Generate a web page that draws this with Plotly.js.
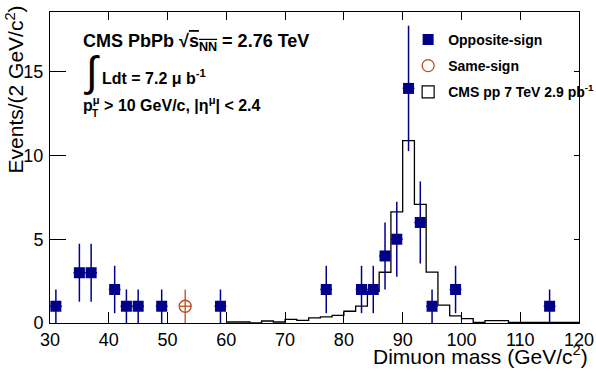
<!DOCTYPE html>
<html><head><meta charset="utf-8">
<script src="https://cdn.plot.ly/plotly-3.0.1.min.js"></script>
<style>html,body{margin:0;padding:0;background:#fff}#chart{width:596px;height:372px}</style>
</head><body><div id="chart"></div>
<script>
// Opposite-sign dimuon candidates (bin centres, 2 GeV bins)
const osMass   = [31,35,37,41,43,45,49,59,77,83,85,87,89,91,93,95,99,115];
const osCounts = [1,3,3,2,1,1,1,1,2,2,2,4,5,14,6,1,2,1];
// Same-sign
const ssMass   = [53];
const ssCounts = [1];
const binHalfWidth = 1;
// CMS pp 7 TeV reference shape, bin edges 60..120
const ppEdges  = [60,62,64,66,68,70,72,74,76,78,80,82,84,86,88,90,92,94,96,98,100,102,104,106,108,110,112,114,116,118,120];
const ppCounts = [0.06,0.06,0,0.12,0.06,0.22,0.16,0.30,0.36,0.46,0.70,1.01,1.89,3.03,6.63,10.88,7.08,3.04,1.07,0.42,0.26,0.03,0.14,0.14,0.03,0.03,0.03,0.03,0.03,0.03];
const xTicks = [30,40,50,60,70,80,90,100,110,120];
const yTicks = [0,5,10,15];

const NAVY = '#000088', ORANGE = '#c04a1c';
const FONT = 'Liberation Sans, Arial, Helvetica, sans-serif';

const traces = [
  {type:'scatter', mode:'lines', x:ppEdges, y:ppCounts.concat([ppCounts[ppCounts.length-1]]),
   line:{shape:'hv', color:'#000', width:1.3}, showlegend:false, hoverinfo:'skip'},
  {type:'scatter', mode:'markers', name:'<b>Opposite-sign</b>', legendgroup:'a',
   x:osMass, y:osCounts,
   marker:{symbol:'square', size:11, color:NAVY},
   error_y:{type:'data', array:osCounts.map(Math.sqrt), color:NAVY, thickness:1.5, width:0},
   error_x:{type:'constant', value:binHalfWidth, color:NAVY, thickness:1.5, width:0}},
  {type:'scatter', mode:'markers', name:'<b>Same-sign</b>', legendgroup:'b',
   x:ssMass, y:ssCounts,
   marker:{symbol:'circle-open', size:12, color:ORANGE, line:{width:1.3, color:ORANGE}},
   error_y:{type:'data', array:ssCounts.map(Math.sqrt), color:ORANGE, thickness:1.3, width:0},
   error_x:{type:'constant', value:binHalfWidth, color:ORANGE, thickness:1.3, width:0}},
  {type:'bar', name:'<b>CMS pp 7 TeV 2.9 pb<sup>-1</sup></b>', legendgroup:'c',
   x:[null], y:[null], marker:{color:'rgba(255,255,255,0)', line:{color:'#000', width:1.2}}},
  {type:'scatter', mode:'none', x:[], y:[], xaxis:'x2', yaxis:'y2', showlegend:false, hoverinfo:'skip'}
];

const annotations = [
  {text:'<b>CMS PbPb √<span style="text-decoration:overline">s<sub>NN</sub></span> = 2.76 TeV</b>',
   xref:'paper', yref:'paper', x:0.058, y:0.903, xanchor:'left', yanchor:'middle', showarrow:false,
   font:{family:FONT, size:18, color:'#000'}},
  {text:'∫', xref:'paper', yref:'paper', x:0.061, y:0.81, xanchor:'left', yanchor:'middle', showarrow:false,
   font:{family:FONT, size:42, color:'#000'}},
  {text:'<b>Ldt = 7.2 μ b<sup>-1</sup></b>',
   xref:'paper', yref:'paper', x:0.095, y:0.79, xanchor:'left', yanchor:'middle', showarrow:false,
   font:{family:FONT, size:16, color:'#000'}},
  {text:'<b>p<sup>μ</sup> > 10 GeV/c, |η<sup>μ</sup>| < 2.4</b>',
   xref:'paper', yref:'paper', x:0.058, y:0.703, xanchor:'left', yanchor:'middle', showarrow:false,
   font:{family:FONT, size:16, color:'#000'}},
  {text:'<b>T</b>', xref:'paper', yref:'paper', x:0.0755, y:0.674, xanchor:'left', yanchor:'middle', showarrow:false,
   font:{family:FONT, size:10, color:'#000'}},
  {text:'Dimuon mass (GeV/c<sup>2</sup>)', xref:'paper', yref:'paper', x:1.021, y:-0.152,
   xanchor:'right', yanchor:'bottom', showarrow:false, font:{family:FONT, size:21, color:'#000'}},
  {text:'Events/(2 GeV/c<sup>2</sup>)', xref:'paper', yref:'paper', x:-0.067, y:1.026, textangle:-90,
   xanchor:'center', yanchor:'top', showarrow:false, font:{family:FONT, size:21, color:'#000'}}
];

const layout = {
  width:596, height:372, margin:{l:50, r:17, t:12, b:49, autoexpand:false},
  paper_bgcolor:'#fff', plot_bgcolor:'#fff',
  font:{family:FONT, color:'#000'},
  showlegend:true,
  legend:{x:0.677, y:0.962, xanchor:'left', yanchor:'top', bgcolor:'rgba(0,0,0,0)', borderwidth:0,
          font:{family:FONT, size:14, color:'#000'}, tracegroupgap:5, traceorder:'grouped'},
  xaxis:{range:[30,120], tickvals:xTicks, ticks:'inside', ticklen:11, tickcolor:'#000', tickwidth:1,
         showline:true, linecolor:'#000', linewidth:1, mirror:true, showgrid:false, zeroline:false,
         tickfont:{family:FONT, size:18, color:'#000'}, ticklabelstandoff:0},
  yaxis:{range:[0,18.56], tickvals:yTicks, ticks:'inside', ticklen:16, tickcolor:'#000', tickwidth:1,
         showline:true, linecolor:'#000', linewidth:1, mirror:true, showgrid:false, zeroline:false,
         tickfont:{family:FONT, size:18, color:'#000'}, ticklabelstandoff:2},
  xaxis2:{overlaying:'x', side:'top', range:[30,120], tickvals:xTicks, ticks:'inside', ticklen:8,
          tickcolor:'#000', showticklabels:false, showline:false, showgrid:false, zeroline:false},
  yaxis2:{overlaying:'y', side:'right', range:[0,18.56], tickvals:yTicks, ticks:'inside', ticklen:5,
          tickcolor:'#000', showticklabels:false, showline:false, showgrid:false, zeroline:false},
  annotations:annotations,
  bargap:0
};

Plotly.newPlot('chart', traces, layout, {displayModeBar:false, staticPlot:true});
</script></body></html>
